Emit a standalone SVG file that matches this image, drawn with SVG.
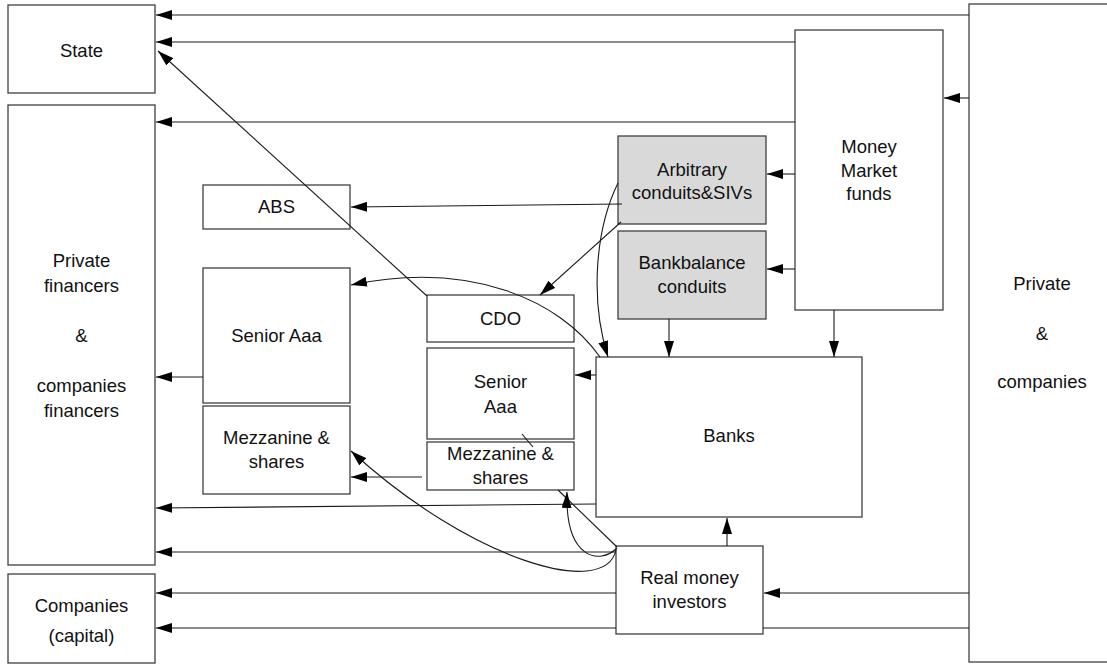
<svg xmlns="http://www.w3.org/2000/svg" width="1107" height="664" viewBox="0 0 1107 664">
<defs>
<marker id="ah" markerUnits="userSpaceOnUse" markerWidth="16" markerHeight="10" refX="16" refY="5" orient="auto">
<path d="M0,0 L16,5 L0,10 z" fill="#000"/>
</marker>
<style>
.box{fill:#fff;stroke:#404040;stroke-width:1.3}
.grey{fill:#d9d9d9;stroke:#404040;stroke-width:1.3}
.t{font-family:"Liberation Sans",Arial,sans-serif;font-size:18.5px;fill:#111;text-anchor:middle}
.c{fill:none;stroke:#1a1a1a;stroke-width:1.1}
.a{marker-end:url(#ah)}
</style>
</defs>
<rect width="1107" height="664" fill="#fff"/>

<g id="state"><rect class="box" x="8" y="5" width="147" height="88"/><text class="t" x="81.5" y="57">State</text></g>
<g id="private-financers"><rect class="box" x="8" y="105" width="147" height="460"/>
<text class="t" x="81.5" y="267">Private</text><text class="t" x="81.5" y="292">financers</text>
<text class="t" x="81.5" y="342">&amp;</text>
<text class="t" x="81.5" y="392">companies</text><text class="t" x="81.5" y="416.5">financers</text></g>
<g id="companies-capital"><rect class="box" x="8" y="574" width="147" height="89"/>
<text class="t" x="81.5" y="612">Companies</text><text class="t" x="81.5" y="642">(capital)</text></g>
<g id="private-companies"><rect class="box" x="969" y="4" width="147" height="658"/>
<text class="t" x="1042" y="290">Private</text><text class="t" x="1042" y="340">&amp;</text><text class="t" x="1042" y="388">companies</text></g>
<g id="mmf"><rect class="box" x="795" y="30" width="148" height="280"/>
<text class="t" x="869" y="153">Money</text><text class="t" x="869" y="177">Market</text><text class="t" x="869" y="200">funds</text></g>
<g id="arbitrary"><rect class="grey" x="618" y="136" width="148" height="88"/>
<text class="t" x="692" y="176">Arbitrary</text><text class="t" x="692" y="199">conduits&amp;SIVs</text></g>
<g id="bankbalance"><rect class="grey" x="618" y="231" width="148" height="88"/>
<text class="t" x="692" y="269">Bankbalance</text><text class="t" x="692" y="293">conduits</text></g>
<g id="abs"><rect class="box" x="203" y="185" width="147" height="44"/><text class="t" x="276.5" y="213">ABS</text></g>
<g id="senior-left"><rect class="box" x="203" y="268" width="147" height="135"/><text class="t" x="276.5" y="342">Senior Aaa</text></g>
<g id="mezz-left"><rect class="box" x="203" y="406" width="147" height="88"/>
<text class="t" x="276.5" y="444">Mezzanine &amp;</text><text class="t" x="276.5" y="468">shares</text></g>
<g id="cdo"><rect class="box" x="427" y="295" width="147" height="47"/><text class="t" x="500.5" y="325">CDO</text></g>
<g id="senior-center"><rect class="box" x="427" y="348" width="147" height="91"/>
<text class="t" x="500.5" y="388">Senior</text><text class="t" x="500.5" y="413">Aaa</text></g>
<g id="mezz-center"><rect class="box" x="427" y="442" width="147" height="48"/>
<text class="t" x="500.5" y="460">Mezzanine &amp;</text><text class="t" x="500.5" y="484">shares</text></g>
<g id="banks"><rect class="box" x="596" y="357" width="266" height="160"/><text class="t" x="729" y="442">Banks</text></g>
<g id="real-money"><rect class="box" x="616" y="546" width="147" height="88"/>
<text class="t" x="689.5" y="584">Real money</text><text class="t" x="689.5" y="608">investors</text></g>

<g id="connectors">
<path class="c a" d="M969,15 L156,15"/>
<path class="c a" d="M795,42 L156,42"/>
<path class="c a" d="M795,122 L156,122"/>
<path class="c a" d="M969,98 L944,98"/>
<path class="c a" d="M795,174 L767,174"/>
<path class="c a" d="M795,269 L767,269"/>
<path class="c a" d="M622,204 L351,207"/>
<path class="c a" d="M621,222 L540,295"/>
<path class="c a" d="M618,183 C595,230 590,300 608,357"/>
<path class="c a" d="M669,319 L669,357"/>
<path class="c a" d="M834,310 L834,357"/>
<path class="c a" d="M596,375 L575,375"/>
<path class="c a" d="M600,357 C560,300 470,260 351,285"/>
<path class="c a" d="M203,377 L156,377"/>
<path class="c a" d="M422,477 L351,477"/>
<path class="c a" d="M596,504 L156,508"/>
<path class="c a" d="M616,552 L156,552"/>
<path class="c a" d="M616,593 L156,593"/>
<path class="c" d="M969,628 L763,628"/>
<path class="c a" d="M616,628 L156,628"/>
<path class="c a" d="M969,593 L764,593"/>
<path class="c a" d="M727,546 L727,518"/>
<path class="c" d="M617,547 L558,490"/>
<path class="c" d="M522,434 L533,447"/>
<path class="c a" d="M617,548 C600,565 565,560 567,492"/>
<path class="c a" d="M616,550 C605,600 470,560 351,451"/>
<path class="c a" d="M427,296 L158,51"/>
</g>
</svg>
